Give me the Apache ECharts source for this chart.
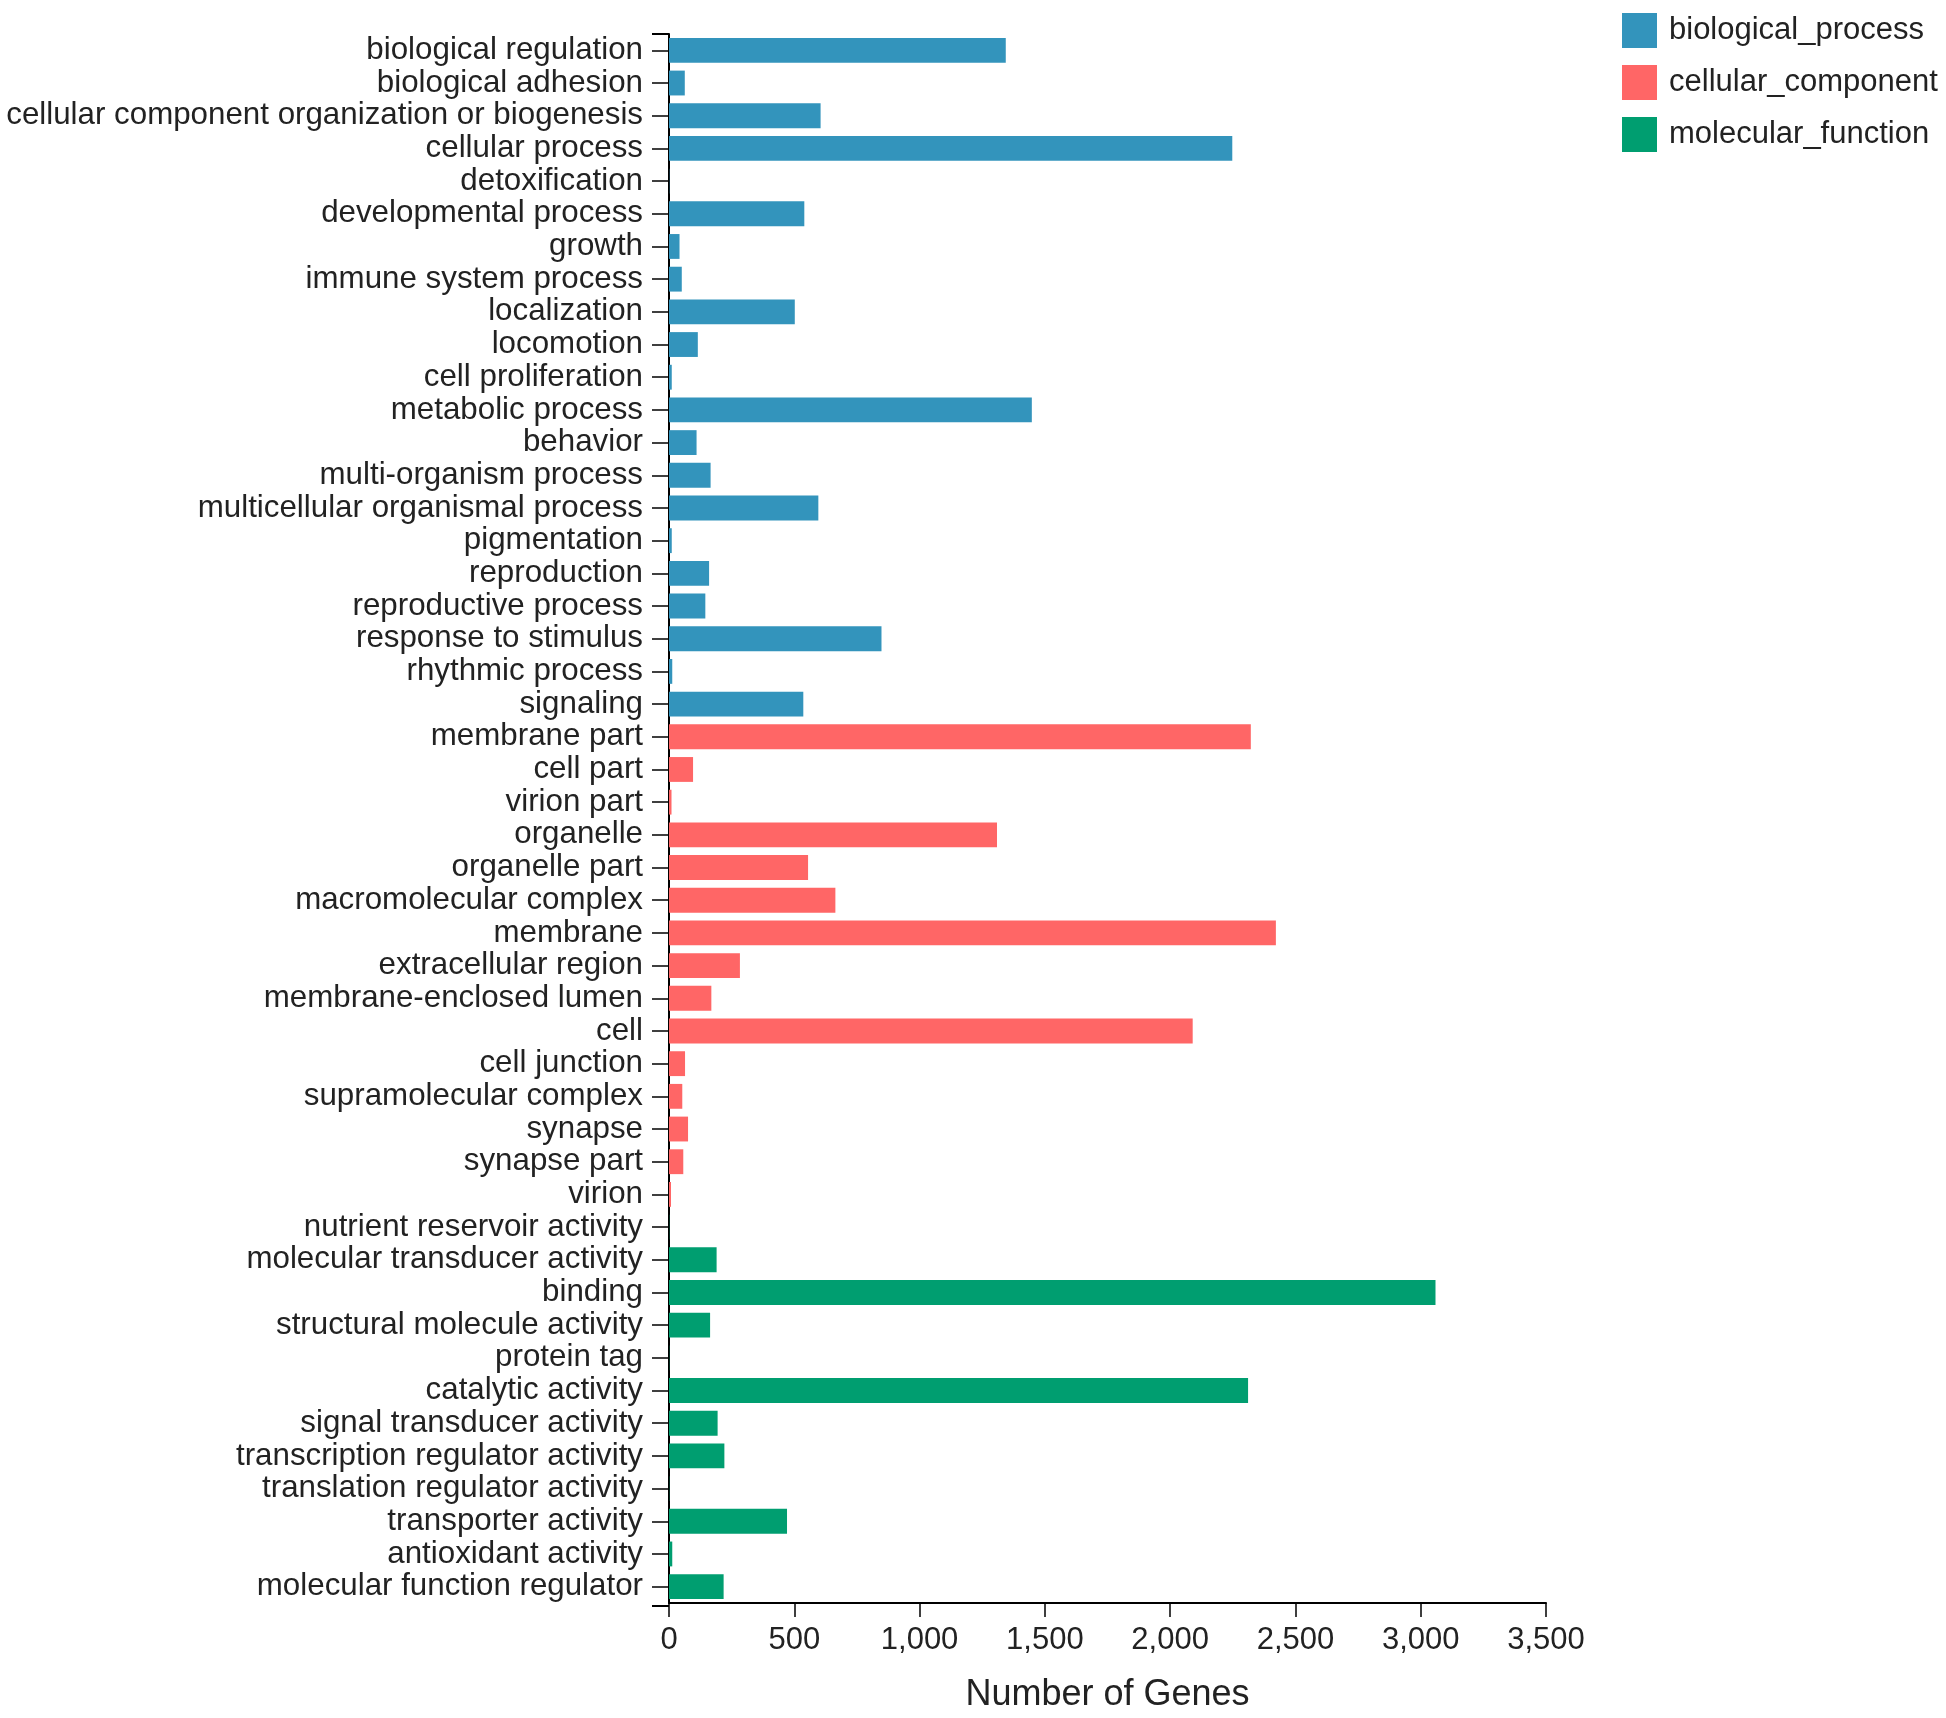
<!DOCTYPE html>
<html>
<head>
<meta charset="utf-8">
<script src="https://cdn.jsdelivr.net/npm/echarts@6/dist/echarts.min.js"></script>
<style>
html,body{margin:0;padding:0;background:#fff;}
#chart{width:1946px;height:1718px;}
</style>
</head>
<body>
<div id="chart"></div>
<script>
// ---- data ----
const bpCategories = ["biological regulation","biological adhesion","cellular component organization or biogenesis","cellular process","detoxification","developmental process","growth","immune system process","localization","locomotion","cell proliferation","metabolic process","behavior","multi-organism process","multicellular organismal process","pigmentation","reproduction","reproductive process","response to stimulus","rhythmic process","signaling"];
const bpValues = [1344,63,605,2248,1,540,42,51,502,115,11,1448,110,166,596,11,160,145,848,13,536];

const ccCategories = ["membrane part","cell part","virion part","organelle","organelle part","macromolecular complex","membrane","extracellular region","membrane-enclosed lumen","cell","cell junction","supramolecular complex","synapse","synapse part","virion"];
const ccValues = [2322,96,10,1309,555,664,2422,283,169,2090,64,53,76,57,8];

const mfCategories = ["nutrient reservoir activity","molecular transducer activity","binding","structural molecule activity","protein tag","catalytic activity","signal transducer activity","transcription regulator activity","translation regulator activity","transporter activity","antioxidant activity","molecular function regulator"];
const mfValues = [1,190,3059,164,1,2311,194,221,1,471,13,218];

const seriesNames = ["biological_process","cellular_component","molecular_function"];
const xTicks = [0,500,1000,1500,2000,2500,3000,3500];
const xTitle = "Number of Genes";

// ---- build ----
const categories = bpCategories.concat(ccCategories, mfCategories);
const nB = bpCategories.length, nC = ccCategories.length, nM = mfCategories.length;
const pad = (n) => new Array(n).fill(null);
const dataBP = bpValues.concat(pad(nC + nM));
const dataCC = pad(nB).concat(ccValues, pad(nM));
const dataMF = pad(nB + nC).concat(mfValues);

const colors = ['#3394bc', '#ff6666', '#009e70'];
const FONT = '"Liberation Sans", Arial, sans-serif';
const TXT = '#222222';

const G = {left: 669, right: 400, top: 34, bottom: 112};
const W = 1946, H = 1718;

const chart = echarts.init(document.getElementById('chart'), null, {renderer: 'canvas'});
const option = {
  backgroundColor: '#ffffff',
  animation: false,
  color: colors,
  textStyle: {fontFamily: FONT},
  legend: {
    data: seriesNames,
    orient: 'vertical',
    left: 1617,
    top: 8,
    icon: 'rect',
    itemWidth: 35,
    itemHeight: 35,
    itemGap: 17,
    textStyle: {fontFamily: FONT, fontSize: 31, color: TXT, padding: [0,0,0,7]}
  },
  grid: {left: G.left, right: G.right, top: G.top, bottom: G.bottom, containLabel: false},
  xAxis: {
    type: 'value',
    min: xTicks[0],
    max: xTicks[xTicks.length - 1],
    interval: xTicks[1] - xTicks[0],
    name: xTitle,
    nameLocation: 'middle',
    nameGap: 74,
    nameTextStyle: {fontFamily: FONT, fontSize: 36, color: TXT},
    axisLine: {show: true, lineStyle: {color: '#000', width: 2}},
    axisTick: {show: true, inside: false, length: 14, lineStyle: {color: '#000', width: 1.5}},
    axisLabel: {fontFamily: FONT, fontSize: 31, color: TXT, margin: 22},
    splitLine: {show: false}
  },
  yAxis: {
    type: 'category',
    data: categories,
    inverse: true,
    axisLine: {show: true, lineStyle: {color: '#000', width: 2}},
    axisTick: {show: true, alignWithLabel: true, inside: false, length: 17, lineStyle: {color: '#000', width: 1.5}},
    axisLabel: {fontFamily: FONT, fontSize: 31.3, color: TXT, margin: 26, interval: 0},
    splitLine: {show: false}
  },
  graphic: [
    {type: 'line', shape: {x1: G.left - 17, y1: G.top, x2: G.left, y2: G.top}, style: {stroke: '#000', lineWidth: 2}},
    {type: 'line', shape: {x1: G.left - 17, y1: H - G.bottom, x2: G.left, y2: H - G.bottom}, style: {stroke: '#000', lineWidth: 2}}
  ],
  series: [
    {name: seriesNames[0], type: 'bar', stack: 'go', data: dataBP, barCategoryGap: '24%'},
    {name: seriesNames[1], type: 'bar', stack: 'go', data: dataCC, barCategoryGap: '24%'},
    {name: seriesNames[2], type: 'bar', stack: 'go', data: dataMF, barCategoryGap: '24%'}
  ]
};
chart.setOption(option);
</script>
</body>
</html>
